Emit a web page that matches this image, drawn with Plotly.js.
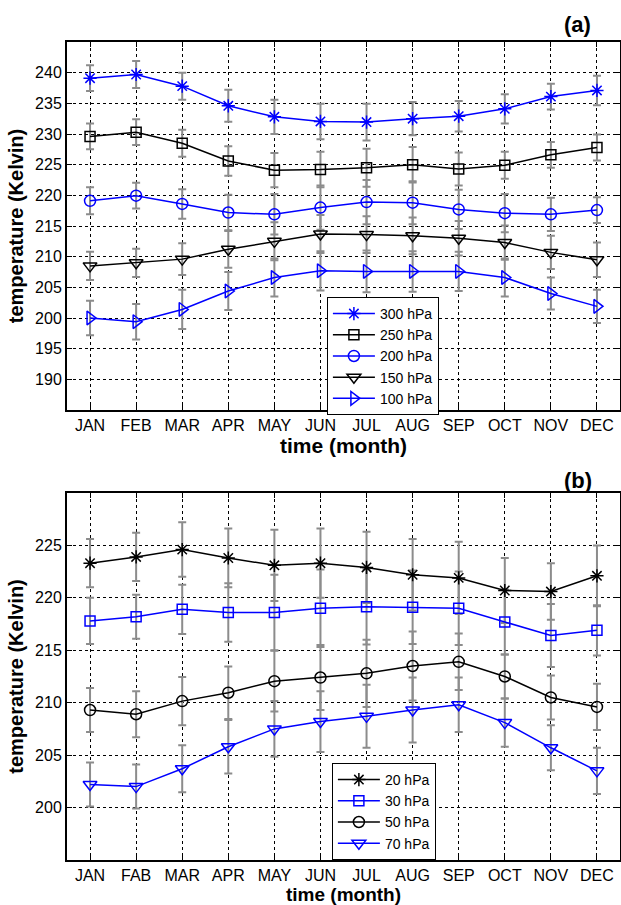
<!DOCTYPE html>
<html>
<head>
<meta charset="utf-8">
<script src="https://cdn.plot.ly/plotly-3.0.1.min.js"></script>
<style>html,body{margin:0;padding:0;background:#fff;}#chart{width:621px;height:905px;}</style>
</head>
<body>
<div id="chart"></div>
<script>
// ---- data ----
const monthsA = ['JAN','FEB','MAR','APR','MAY','JUN','JUL','AUG','SEP','OCT','NOV','DEC'];
const monthsB = ['JAN','FAB','MAR','APR','MAY','JUN','JUL','AUG','SEP','OCT','NOV','DEC'];

// panel (a)
const t300 = [239.1,239.7,237.8,234.6,232.8,232.05,231.95,232.5,232.9,234.1,236.1,237.1];
const e300 = [2.1,2.2,2.2,2.6,2.8,2.9,3.0,2.7,2.5,2.4,2.1,2.4];
const t250 = [229.6,230.3,228.5,225.6,224.1,224.2,224.5,225.0,224.3,224.9,226.6,227.8];
const e250 = [2.1,2.1,2.2,2.4,2.8,2.9,3.1,2.9,2.7,2.2,2.1,2.1];
const t200 = [219.1,219.95,218.6,217.2,216.9,218.0,218.9,218.8,217.7,217.1,216.9,217.6];
const e200 = [2.2,2.1,2.4,2.9,3.3,3.6,3.6,3.5,3.2,3.1,2.7,2.1];
const t150 = [208.5,209.0,209.6,211.2,212.5,213.7,213.6,213.4,213.0,212.3,210.7,209.5];
const e150 = [2.3,2.3,2.6,3.0,3.1,3.1,3.0,3.0,2.8,2.8,2.7,2.8];
const t100 = [200.0,199.4,201.4,204.4,206.6,207.7,207.6,207.6,207.6,206.6,204.0,201.9];
const e100 = [2.8,2.9,3.2,3.1,3.1,3.2,3.4,3.3,3.2,3.1,2.6,2.7];

// panel (b)
const t20 = [223.3,223.9,224.6,223.8,223.1,223.3,222.9,222.2,221.9,220.7,220.6,222.1];
const e20 = [2.3,2.3,2.6,2.8,3.4,3.3,3.4,3.4,3.45,3.1,2.7,2.9];
const t30 = [217.8,218.2,218.9,218.6,218.6,219.0,219.15,219.1,219.0,217.7,216.4,216.9];
const e30 = [2.2,2.1,2.35,2.8,3.6,3.7,3.6,3.5,3.5,3.1,3.0,2.4];
const t50 = [209.3,208.9,210.15,210.95,212.05,212.4,212.8,213.5,213.9,212.5,210.5,209.6];
const e50 = [2.1,2.2,2.3,2.5,2.9,3.1,3.2,3.3,2.7,2.1,2.1,2.2];
const t70 = [202.2,202.0,203.7,205.8,207.5,208.2,208.7,209.3,209.8,208.1,205.7,203.5];
const e70 = [2.1,2.1,2.25,2.55,2.65,2.9,3.0,3.1,2.6,2.3,2.15,2.2];

const yticksA = [190,195,200,205,210,215,220,225,230,235,240];
const yticksB = [200,205,210,215,220,225];

const seriesA = [
  {name:'300 hPa', y:t300, e:e300, color:'#0000ff', symbol:'asterisk-open', size:11},
  {name:'250 hPa', y:t250, e:e250, color:'#000000', symbol:'square-open', size:10},
  {name:'200 hPa', y:t200, e:e200, color:'#0000ff', symbol:'circle-open', size:11},
  {name:'150 hPa', y:t150, e:e150, color:'#000000', symbol:'triangle-down-open', size:12},
  {name:'100 hPa', y:t100, e:e100, color:'#0000ff', symbol:'triangle-right-open', size:12}
];
const seriesB = [
  {name:'20 hPa', y:t20, e:e20, color:'#000000', symbol:'asterisk-open', size:11},
  {name:'30 hPa', y:t30, e:e30, color:'#0000ff', symbol:'square-open', size:10},
  {name:'50 hPa', y:t50, e:e50, color:'#000000', symbol:'circle-open', size:11},
  {name:'70 hPa', y:t70, e:e70, color:'#0000ff', symbol:'triangle-down-open', size:12}
];

const traces = [];
function addPanel(series, x, xa, ya, legendId) {
  // grey error bars first so the lines sit on top
  series.forEach(s => {
    traces.push({
      x: x, y: s.y, xaxis: xa, yaxis: ya, type: 'scatter', mode: 'markers',
      marker: {size: 1, color: 'rgba(0,0,0,0)'},
      error_y: {type: 'data', array: s.e, visible: true, color: '#8c8c8c', thickness: 2, width: 4},
      showlegend: false, hoverinfo: 'skip'
    });
  });
  series.forEach(s => {
    traces.push({
      x: x, y: s.y, xaxis: xa, yaxis: ya, type: 'scatter', mode: 'lines+markers',
      name: s.name, legend: legendId,
      line: {color: s.color, width: 1.5},
      marker: {symbol: s.symbol, size: s.size, color: s.color, line: {color: s.color, width: 1.5}}
    });
  });
}
addPanel(seriesA, monthsA, 'x', 'y', 'legend');
addPanel(seriesB, monthsB, 'x2', 'y2', 'legend2');

const FONT = 'Liberation Sans, Arial, Helvetica, sans-serif';
function xAxis(anchor, tsize, standoff) {
  return {
    anchor: anchor, type: 'category', range: [-0.5, 11.5],
    showline: true, linecolor: '#000', linewidth: 2, mirror: 'ticks',
    ticks: 'inside', ticklen: 5, tickwidth: 1, tickcolor: '#000',
    showgrid: true, gridcolor: '#000', gridwidth: 1, griddash: '3px,3px',
    zeroline: false, tickfont: {family: FONT, size: 16, color: '#000'},
    title: {text: 'time (month)', font: {family: FONT, size: tsize, color: '#000', weight: 'bold'}, standoff: standoff},
    automargin: false
  };
}
function yAxis(anchor, domain, range, ticks) {
  return {
    anchor: anchor, domain: domain, range: range, tickvals: ticks,
    showline: true, linecolor: '#000', linewidth: 2, mirror: 'ticks',
    ticks: 'inside', ticklen: 5, tickwidth: 1, tickcolor: '#000',
    showgrid: true, gridcolor: '#000', gridwidth: 1, griddash: '3px,3px',
    zeroline: false, tickfont: {family: FONT, size: 16, color: '#000'},
    title: {text: 'temperature (Kelvin)', font: {family: FONT, size: 20, color: '#000', weight: 'bold'}, standoff: 6},
    automargin: false
  };
}
function legendBox(x, y) {
  return {
    x: x, y: y, xanchor: 'left', yanchor: 'top', xref: 'paper', yref: 'paper',
    bgcolor: '#fff', bordercolor: '#000', borderwidth: 1,
    font: {family: FONT, size: 14, color: '#000'}, tracegroupgap: 0, itemwidth: 42
  };
}

const layout = {
  width: 621, height: 905,
  margin: {l: 67, r: 1, t: 42, b: 45},
  paper_bgcolor: '#fff', plot_bgcolor: '#fff',
  font: {family: FONT, color: '#000'},
  xaxis: xAxis('y', 21, 3),
  yaxis: yAxis('x', [0.5501, 1], [185, 245], yticksA),
  xaxis2: xAxis('y2', 19, 0),
  yaxis2: yAxis('x2', [0, 0.4487], [195, 230], yticksB),
  legend: legendBox(0.470, 0.6883),
  legend2: legendBox(0.479, 0.1186),
  annotations: [
    {text: '(a)', x: 0.924, y: 1.0208, xref: 'paper', yref: 'paper', xanchor: 'center', yanchor: 'middle',
     showarrow: false, font: {family: FONT, size: 22, color: '#000', weight: 'bold'}},
    {text: '(b)', x: 0.924, y: 0.464, xref: 'paper', yref: 'paper', xanchor: 'center', yanchor: 'middle',
     showarrow: false, font: {family: FONT, size: 22, color: '#000', weight: 'bold'}}
  ],
  showlegend: true
};

Plotly.newPlot('chart', traces, layout, {displayModeBar: false, staticPlot: true});
</script>
</body>
</html>
